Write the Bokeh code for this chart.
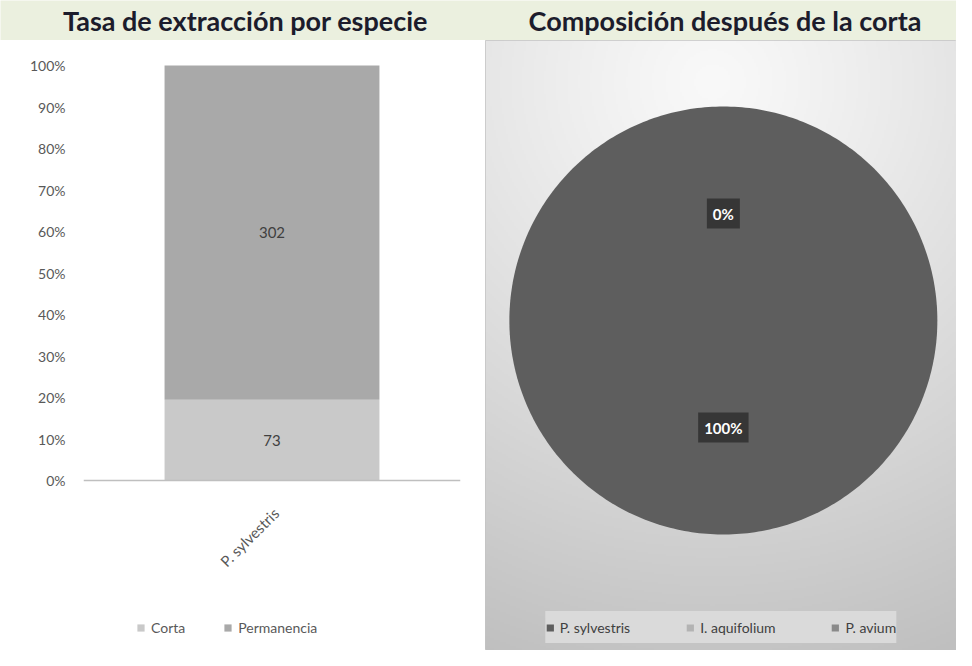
import numpy as np
from math import pi, cos, sin
from bokeh.plotting import figure
from bokeh.layouts import column, row
from bokeh.models import (Range1d, FixedTicker, NumeralTickFormatter, Legend,
                          LegendItem, ColumnDataSource, Span)
from bokeh.core.properties import value
from bokeh.embed import file_html
from bokeh.resources import INLINE

# ---------------- data ----------------
titles = ["Tasa de extracción por especie", "Composición después de la corta"]

bar_species = ["P. sylvestris"]
corta = [73]
permanencia = [302]
stack_names = ["Corta", "Permanencia"]
y_ticks = [0.0, 0.1, 0.2, 0.3, 0.4, 0.5, 0.6, 0.7, 0.8, 0.9, 1.0]

pie_species = ["P. sylvestris", "I. aquifolium", "P. avium"]
pie_values = [302, 0, 0]

# ---------------- styles ----------------
FONT = "Lato"
W_L, W_R, GAP, H_T, H_P = 478, 471, 7, 40, 610
TOP_PAD, AXIS_Y = 25, 440          # px from panel top to 100% and to 0%
bar_colors = ["#c9c9c9", "#a9a9a9"]
pie_colors = ["#5e5e5e", "#b3b3b3", "#8a8a8a"]
TICK_COLOR = "#595959"

# ---------------- title bar ----------------
pt = figure(frame_width=W_L + GAP + W_R, frame_height=H_T, output_backend="svg",
            toolbar_location=None,
            x_range=Range1d(0, W_L + GAP + W_R), y_range=Range1d(0, H_T),
            x_axis_type=None, y_axis_type=None, min_border=0)
pt.grid.visible = False
pt.outline_line_color = None
pt.title.visible = False
pt.background_fill_color = "#ebf0df"
pt.border_fill_color = "#ebf0df"
pt.text(x=[W_L / 2 + 6, W_L + GAP + W_R / 2 + 4], y=[H_T / 2, H_T / 2], text=titles,
        text_align="center", text_baseline="middle", text_font=value(FONT),
        text_font_style="bold", text_font_size="27px", text_color="#1c1c2c")

# ---------------- left: stacked 100% bar ----------------
totals = [c + p for c, p in zip(corta, permanencia)]
src = ColumnDataSource(dict(
    sp=bar_species,
    Corta=[c / t for c, t in zip(corta, totals)],
    Permanencia=[p / t for p, t in zip(permanencia, totals)],
))

unit = 1.0 / (AXIS_Y - TOP_PAD)
p1 = figure(x_range=bar_species,
            y_range=Range1d(-(H_P - AXIS_Y) * unit, 1 + TOP_PAD * unit),
            frame_width=377, frame_height=H_P, x_axis_location=None,
            output_backend="svg", toolbar_location=None,
            min_border_left=83, min_border_right=18 + GAP, min_border_top=0,
            min_border_bottom=0)
p1.title.visible = False
rs = p1.vbar_stack(stack_names, x="sp", width=0.57, color=bar_colors, line_color=None,
                   source=src)

lab_x, lab_y, lab_t = [], [], []
for sp, c, p, t in zip(bar_species, corta, permanencia, totals):
    lab_x += [sp, sp]
    lab_y += [c / t / 2, c / t + p / t / 2]
    lab_t += [str(c), str(p)]
p1.text(x=lab_x, y=lab_y, text=lab_t, text_align="center", text_baseline="middle",
        text_font=value(FONT), text_font_size="15px", text_color="#404040")

# category axis line and rotated category label
p1.add_layout(Span(location=0, dimension="width", line_color="#bfbfbf", line_width=1.5))
p1.text(x=bar_species, y=[0] * len(bar_species), text=bar_species, angle=pi / 4,
        text_align="right", text_baseline="middle", x_offset=4, y_offset=30,
        text_font=value(FONT), text_font_size="15px", text_color=TICK_COLOR)

p1.xgrid.visible = False
p1.ygrid.visible = False
p1.outline_line_color = None
p1.background_fill_color = "white"
p1.border_fill_color = "white"

p1.yaxis.ticker = FixedTicker(ticks=y_ticks)
p1.yaxis.formatter = NumeralTickFormatter(format="0%")
p1.yaxis.axis_line_color = None
p1.yaxis.major_tick_line_color = None
p1.yaxis.minor_tick_line_color = None
p1.yaxis.major_tick_out = 0
p1.yaxis.major_label_standoff = 18
p1.yaxis.major_label_text_font = FONT
p1.yaxis.major_label_text_font_size = "14px"
p1.yaxis.major_label_text_color = TICK_COLOR

leg1 = Legend(items=[LegendItem(label=n, renderers=[r]) for n, r in zip(stack_names, rs)],
              orientation="horizontal", location=(53, 14), border_line_color=None,
              background_fill_alpha=0, label_text_font=FONT, label_text_font_size="14px",
              label_text_color=TICK_COLOR, glyph_width=9, glyph_height=9, spacing=38,
              label_standoff=6, padding=0, margin=0)
p1.add_layout(leg1, "center")

# ---------------- right: pie ----------------
p2 = figure(frame_width=W_R, frame_height=H_P, output_backend="svg", toolbar_location=None,
            x_range=Range1d(0, W_R), y_range=Range1d(0, H_P),
            x_axis_type=None, y_axis_type=None, min_border=0)
p2.title.visible = False
p2.grid.visible = False
p2.outline_line_color = "#c4c4c4"
p2.background_fill_color = "#e0e0e0"
p2.border_fill_color = "#e0e0e0"

# soft radial background shading
ny, nx = H_P // 2, W_R // 2
gy, gx = np.mgrid[0:ny, 0:nx]
gcx, gcy = nx * 0.48, ny * 0.93
d = np.sqrt((gx - gcx) ** 2 + (gy - gcy) ** 2)
shade = (249 - 58 * (d / d.max()) ** 1.15).astype(np.uint8)
img = np.empty((ny, nx), dtype=np.uint32)
view = img.view(dtype=np.uint8).reshape((ny, nx, 4))
view[:, :, 0] = shade
view[:, :, 1] = shade
view[:, :, 2] = shade
view[:, :, 3] = 255
p2.image_rgba(image=[img], x=0, y=0, dw=W_R, dh=H_P)

cx, cy, R = W_R * 0.505, H_P - 280, 214
tot = sum(pie_values)
fracs = [v / tot for v in pie_values]
xs, ys, mids = [], [], []
acc = 0.0
for f in fracs:
    a0 = pi / 2 - 2 * pi * acc
    acc += f
    a1 = pi / 2 - 2 * pi * acc
    angs = np.linspace(a0, a1, max(2, int(abs(a1 - a0) / (2 * pi) * 360) + 2))
    px = list(cx + R * np.cos(angs))
    py = list(cy + R * np.sin(angs))
    if f < 1:
        px = [cx] + px
        py = [cy] + py
    xs.append(px)
    ys.append(py)
    mids.append((a0 + a1) / 2)
src2 = ColumnDataSource(dict(sp=pie_species, xs=xs, ys=ys, color=pie_colors))
p2.patches(xs="xs", ys="ys", color="color", line_color=None, legend_field="sp", source=src2)

pl_x, pl_y, pl_t = [], [], []
for f, m in zip(fracs, mids):
    lx, ly, lt = cx + 0.5 * R * cos(m), cy + 0.5 * R * sin(m), f"{round(f * 100)}%"
    if any(abs(lx - a) < 1 and abs(ly - b) < 1 and lt == c for a, b, c in zip(pl_x, pl_y, pl_t)):
        continue  # identical labels of empty slices sit on top of each other
    pl_x.append(lx)
    pl_y.append(ly)
    pl_t.append(lt)
p2.text(x=pl_x, y=pl_y, text=pl_t, text_align="center", text_baseline="middle",
        text_font=value(FONT), text_font_style="bold", text_font_size="15px",
        text_color="white", background_fill_color="#363636", padding=6)

leg2 = p2.legend[0]
leg2.location = "bottom_center"
leg2.orientation = "horizontal"
leg2.background_fill_color = "#dadada"
leg2.background_fill_alpha = 1
leg2.border_line_color = None
leg2.label_text_font = FONT
leg2.label_text_font_size = "14px"
leg2.label_text_color = "#404040"
leg2.glyph_width = 9
leg2.glyph_height = 9
leg2.label_height = 32
leg2.spacing = 55
leg2.padding = 12
leg2.margin = 7
leg2.label_standoff = 6

layout = column(pt, row(p1, p2))

open("out.html", "w").write(file_html(layout, INLINE))
